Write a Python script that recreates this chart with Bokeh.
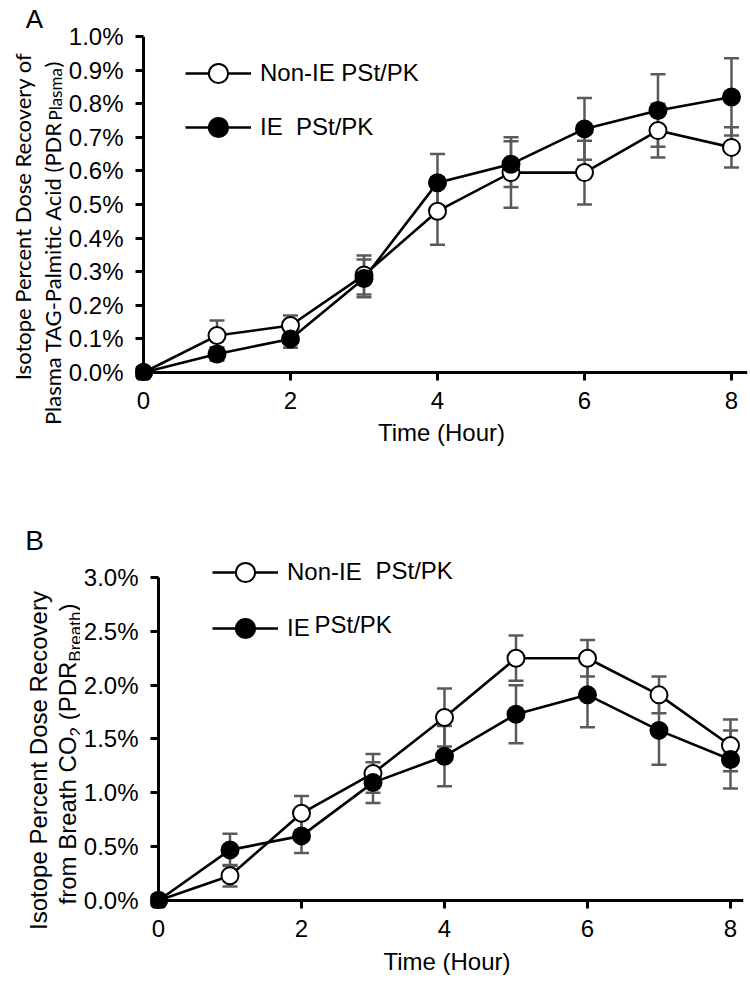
import math
from bokeh.plotting import figure
from bokeh.models import (ColumnDataSource, Whisker, TeeHead, Span, Label, Legend,
                          LegendItem, FixedTicker, PrintfTickFormatter, Range1d)
from bokeh.layouts import column, row
from bokeh.embed import file_html
from bokeh.resources import INLINE

# ---------------- data ----------------
hours = [0, 1, 2, 3, 4, 5, 6, 7, 8]
x_ticks = [0, 2, 4, 6, 8]

# Panel A: plasma TAG-palmitic acid PDR (%)
a_nonie = [0.0, 0.11, 0.14, 0.29, 0.48, 0.595, 0.595, 0.72, 0.67]
a_nonie_err = [0.0, 0.045, 0.03, 0.058, 0.10, 0.105, 0.095, 0.08, 0.06]
a_ie = [0.0, 0.055, 0.10, 0.28, 0.565, 0.62, 0.725, 0.78, 0.82]
a_ie_err = [0.0, 0.02, 0.026, 0.056, 0.085, 0.068, 0.092, 0.108, 0.115]
a_ticks = [0.0, 0.1, 0.2, 0.3, 0.4, 0.5, 0.6, 0.7, 0.8, 0.9, 1.0]

# Panel B: breath CO2 PDR (%)
b_nonie = [0.0, 0.23, 0.81, 1.18, 1.70, 2.25, 2.25, 1.91, 1.44]
b_nonie_err = [0.0, 0.10, 0.16, 0.18, 0.27, 0.21, 0.17, 0.17, 0.24]
b_ie = [0.0, 0.47, 0.60, 1.095, 1.34, 1.73, 1.91, 1.58, 1.31]
b_ie_err = [0.0, 0.15, 0.16, 0.19, 0.28, 0.27, 0.30, 0.32, 0.27]
b_ticks = [0.0, 0.5, 1.0, 1.5, 2.0, 2.5, 3.0]

label_nonie_a = "Non-IE PSt/PK"
label_ie_a = "IE  PSt/PK"
label_nonie_b = "Non-IE"
label_ie_b = "IE"
label_suffix_b = "PSt/PK"

FONT = "Liberation Sans"
LATO = "Lato"
GRAY = "#5a5a5a"

ARIAL_W = {' ': 278, '(': 333, ')': 333, '2': 556, 'B': 667, 'C': 722, 'D': 722,
           'O': 778, 'P': 667, 'R': 722, 'a': 556, 'e': 556, 'f': 278, 'h': 556,
           'm': 833, 'o': 556, 'r': 333, 't': 278}


def text_w(s, size):
    return sum(ARIAL_W.get(c, 556) for c in s) * size / 1000.0


def label_fig(width, height):
    f = figure(width=width, height=height, output_backend="svg", toolbar_location=None,
               x_range=Range1d(0, width), y_range=Range1d(height, 0),
               x_axis_location=None, y_axis_location=None,
               min_border=0, min_border_left=0, min_border_right=0,
               min_border_top=0, min_border_bottom=0)
    f.frame_align = False
    f.outline_line_color = None
    f.xgrid.visible = False
    f.ygrid.visible = False
    return f


def txt(f, x, y, text, font, size, align="left", baseline="alphabetic", angle=0.0,
        units="data"):
    f.add_layout(Label(x=x, y=y, x_units=units, y_units=units, text=text, angle=angle,
                       text_align=align, text_baseline=baseline, text_font=font,
                       text_font_size=f"{size}px", text_color="black"))


def panel(width, height, left, top, bottom, right, xr, yr, yticks, series, leg_loc,
          leg_spacing, title_standoff):
    p = figure(width=width, height=height, output_backend="svg", toolbar_location=None,
               x_range=Range1d(*xr), y_range=Range1d(*yr),
               min_border_left=left, min_border_top=top, min_border_bottom=bottom,
               min_border_right=right)
    p.frame_align = False
    p.outline_line_color = None
    p.xgrid.visible = False
    p.ygrid.visible = False
    for ax in (p.xaxis[0], p.yaxis[0]):
        ax.axis_line_color = None
        ax.major_tick_in = 8
        ax.major_tick_out = 0
        ax.major_tick_line_width = 3
        ax.major_tick_line_color = "black"
        ax.minor_tick_line_color = None
        ax.major_label_text_font = FONT
        ax.major_label_text_font_size = "24px"
        ax.major_label_text_color = "black"
    p.xaxis.ticker = FixedTicker(ticks=x_ticks)
    p.yaxis.ticker = FixedTicker(ticks=yticks)
    p.yaxis.formatter = PrintfTickFormatter(format="%.1f%%")
    p.yaxis.major_label_standoff = 12
    p.xaxis.major_label_standoff = 11
    p.xaxis.axis_label = "Time (Hour)"
    p.xaxis.axis_label_text_font = FONT
    p.xaxis.axis_label_text_font_size = "24px"
    p.xaxis.axis_label_text_font_style = "normal"
    p.xaxis.axis_label_text_color = "black"
    p.xaxis.axis_label_standoff = title_standoff

    # axis lines at the data origin
    p.add_layout(Span(location=0, dimension="width", line_color="black", line_width=3))
    p.segment(x0=[0], y0=[yr[0]], x1=[0], y1=[yticks[-1]], line_color="black",
              line_width=3)

    srcs = []
    for vals, errs, fill, lab in series:
        src = ColumnDataSource(dict(
            x=hours, y=vals,
            upper=[v + e for v, e in zip(vals, errs)],
            lower=[v - e for v, e in zip(vals, errs)]))
        srcs.append((src, fill, lab))
        p.add_layout(Whisker(
            source=src, base="x", upper="upper", lower="lower", level="underlay",
            line_color=GRAY, line_width=2.5,
            upper_head=TeeHead(size=15, line_color=GRAY, line_width=2.5),
            lower_head=TeeHead(size=15, line_color=GRAY, line_width=2.5)))
    items = []
    for src, fill, lab in srcs:
        rl = p.line("x", "y", source=src, line_color="black", line_width=2.6)
        rs = p.scatter("x", "y", source=src, marker="circle", size=17,
                       fill_color=fill, line_color="black", line_width=2)
        items.append(LegendItem(label=lab, renderers=[rl, rs]))
    leg = Legend(items=items, location=leg_loc, glyph_width=66, glyph_height=48,
                 label_height=48, spacing=leg_spacing, padding=0, margin=0,
                 border_line_color=None, background_fill_alpha=0,
                 label_standoff=9, label_text_font=FONT, label_text_font_size="24px",
                 label_text_color="black")
    p.add_layout(leg)
    return p


# ---------------- panel A ----------------
HA = 490
WLA = 64
labA = label_fig(WLA, HA)
txt(labA, 34, 18, "A", FONT, 26, align="center", baseline="middle")
txt(labA, 22, 216, "Isotope Percent Dose Recovery of", LATO, 22, align="center",
    angle=math.pi / 2)
txt(labA, 52, 121, "Plasma TAG-Palmitic Acid (PDR", LATO, 22, align="right",
    angle=math.pi / 2)
txt(labA, 55, 120, "Plasma", LATO, 17, align="left", angle=math.pi / 2)
txt(labA, 52, 67, ")", LATO, 22, align="left", angle=math.pi / 2)

pA = panel(750 - WLA, HA, 135 - WLA, 36, HA - 380, 3, (-0.1088, 8.218),
           (-0.0238, 1.0), a_ticks,
           [(a_nonie, a_nonie_err, "white", label_nonie_a),
            (a_ie, a_ie_err, "black", label_ie_a)],
           (50, 229), 6, 7)

# ---------------- panel B ----------------
HB = 986 - HA
WLB = 80
labB = label_fig(WLB, HB)
txt(labB, 34, 50, "B", FONT, 28, align="center", baseline="middle")
txt(labB, 38, 270, "Isotope Percent Dose Recovery", FONT, 24, align="center",
    angle=math.pi / 2)
# second line: main text 24px, subscripts 17px shifted toward the baseline side
pieces = [("from Breath CO", 24, 0), ("2", 17, 8), (" ", 24, None), ("(PDR", 24, 0),
          ("Breath", 17, 8), (")", 24, 0)]
ypos = 414.0
for t, size, shift in pieces:
    if shift is not None:
        txt(labB, 67 + shift, ypos, t, FONT, size, align="left", angle=math.pi / 2)
    ypos -= text_w(t, size)

pB = panel(750 - WLB, HB, 150 - WLB, 55, HB - 418, 7, (-0.1119, 8.182),
           (-0.0743, 3.297), b_ticks,
           [(b_nonie, b_nonie_err, "white", label_nonie_b),
            (b_ie, b_ie_err, "black", label_ie_b)],
           (62, 256), 8, 8)
# slightly raised "PSt/PK" part of the legend entries in panel B
txt(pB, 295, 80, label_suffix_b, FONT, 24, align="left", baseline="middle",
    units="canvas")
txt(pB, 234, 134, label_suffix_b, FONT, 24, align="left", baseline="middle",
    units="canvas")

layout = column(row(labA, pA), row(labB, pB))
open("out.html", "w").write(file_html(layout, INLINE))
